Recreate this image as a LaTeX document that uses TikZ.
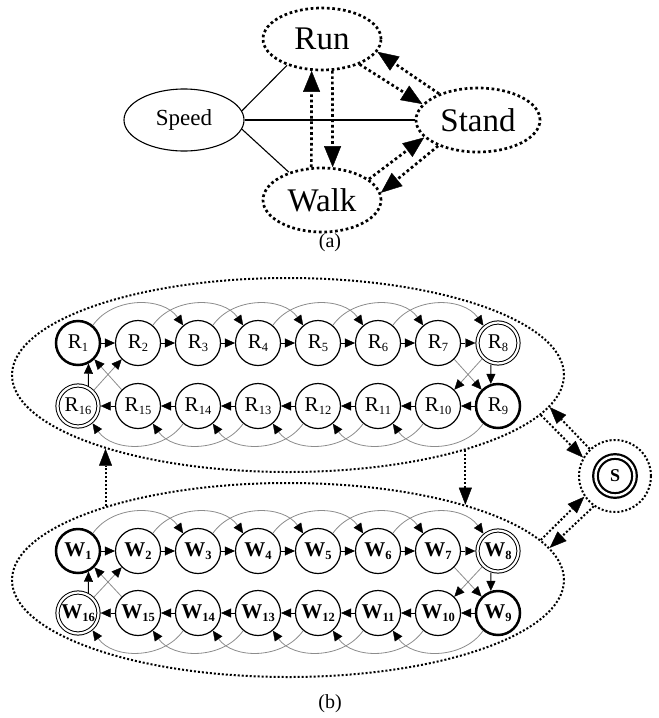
\documentclass[tikz,border=0pt]{standalone}
\usepackage{fontspec}
\setmainfont{Liberation Serif}
\usetikzlibrary{shapes.geometric,arrows.meta}

% state label: letter with a lowered small index
\newcommand\stlab[3]{{#1\fontsize{21}{21}\selectfont #2}\raisebox{-3.5pt}{#1\fontsize{12.5}{12.5}\selectfont #3}}

\begin{document}
\begin{tikzpicture}[x=1pt,y=1pt,
  bigdots/.style={line width=2.7pt,dash pattern=on 2.7pt off 2.7pt},
  smalldots/.style={line width=2pt,dash pattern=on 2pt off 2pt},
  bigtip/.style={-{Triangle[length=21pt,width=17pt,line width=0.4pt]}},
  midtip/.style={-{Triangle[length=17pt,width=13pt,line width=0.4pt]}},
  oval/.style={ellipse,inner sep=0pt},
  pl/.style={circle,draw,line width=1.2pt,minimum size=45pt,inner sep=0pt},
  thk/.style={circle,draw,line width=2.5pt,minimum size=44pt,inner sep=0pt},
  dbl/.style={circle,draw,line width=1pt,double,double distance=2.2pt,minimum size=41pt,inner sep=0pt,outer sep=2.2pt},
  nxt/.style={draw,line width=1pt,-{Triangle[length=10pt,width=9pt,line width=0.4pt]}},
  skp/.style={draw=black!45,line width=0.8pt,-{Triangle[length=10pt,width=9pt,line width=0.4pt,color=black]}},
]
\useasboundingbox (0,0) rectangle (659,-718);

% ---------------- (a) activity model ----------------
\node[oval,draw,line width=1.1pt,minimum width=120pt,minimum height=62pt] (speed) at (184,-120) {\fontsize{23}{23}\selectfont Speed};
\node[oval,draw,bigdots,minimum width=118pt,minimum height=62pt] (run) at (322,-39) {\fontsize{33}{33}\selectfont Run};
\node[oval,draw,bigdots,minimum width=124pt,minimum height=64pt] (stand) at (478,-120) {\fontsize{33}{33}\selectfont Stand};
\node[oval,draw,bigdots,minimum width=118pt,minimum height=64pt] (walk) at (322,-200) {\fontsize{33}{33}\selectfont Walk};

\draw[line width=1.1pt] (speed.9.6) -- (run.217);
\draw[line width=1.1pt] (speed) -- (stand);
\draw[line width=1.1pt] (speed.-9.6) -- (walk.140);

\draw[bigdots,bigtip] (run.-34) -- (stand.164);
\draw[bigdots,bigtip] (stand.146) -- (run.-13.6);
\draw[bigdots,bigtip] (stand.213) -- (walk.7.5);
\draw[bigdots,bigtip] (walk.24) -- (stand.198);
\draw[bigdots,bigtip] (run.-72) -- (walk.72);
\draw[bigdots,bigtip] (walk.108) -- (run.-108);

\node (capa) at (330,-243) {\fontsize{20}{20}\selectfont (a)};

% ---------------- (b) state chains ----------------
\node[oval,draw,smalldots,minimum width=552pt,minimum height=194pt] (Rg) at (288,-375) {};
\node[oval,draw,smalldots,minimum width=552pt,minimum height=194pt] (Wg) at (288,-580) {};

\foreach \g/\yt/\yb/\ff in {R/343/406/\mdseries,W/551/613/\bfseries}{
  \foreach \i/\s in {1/thk,2/pl,3/pl,4/pl,5/pl,6/pl,7/pl,8/dbl}
    \node[\s] (\g\i) at ({78+60*(\i-1)},-\yt) {\stlab{\ff}{\g}{\i}};
  \foreach \i/\s in {9/thk,10/pl,11/pl,12/pl,13/pl,14/pl,15/pl,16/dbl}
    \node[\s] (\g\i) at ({498-60*(\i-9)},-\yb) {\stlab{\ff}{\g}{\i}};
}

\foreach \g in {R,W}{
  % one step forward
  \foreach \i [evaluate=\i as \j using int(\i+1)] in {1,2,3,4,5,6,7,9,10,11,12,13,14,15}
    \draw[nxt] (\g\i) -- (\g\j);
  \draw[nxt] (\g8.-108) -- (\g9.108);
  \draw[nxt] (\g16.63) -- (\g1.-63);
  % two steps forward
  \foreach \i [evaluate=\i as \j using int(\i+2)] in {1,...,6}
    \draw[skp] (\g\i.50) to[out=55,in=125] (\g\j.130);
  \foreach \i [evaluate=\i as \j using int(\i+2)] in {9,...,14}
    \draw[skp] (\g\i.230) to[out=-125,in=-55] (\g\j.-50);
  \draw[skp] (\g7.-45) -- (\g9.135);
  \draw[skp] (\g8.-135) -- (\g10.45);
  \draw[skp] (\g15.135) -- (\g1.-45);
  \draw[skp] (\g16.45) -- (\g2.-135);
}

% standing state
\node[circle,draw,smalldots,minimum size=72pt,inner sep=0pt] (Sring) at (615,-476) {};
\node[circle,draw,line width=2.2pt,double,double distance=2.4pt,minimum size=39pt,inner sep=0pt,font={\bfseries\fontsize{18}{18}\selectfont}] (S) at (615,-476) {S};

\draw[smalldots,midtip] (Rg.-9.8) -- (Sring.150.6);
\draw[smalldots,midtip] (Sring.133.9) -- (Rg.-7.3);
\draw[smalldots,midtip] (Wg.9.8) -- (Sring.214.5);
\draw[smalldots,midtip] (Sring.235.5) -- (Wg.7.2);
\draw[smalldots,midtip] (Wg.158) -- (Rg.-158);
\draw[smalldots,midtip] (Rg.-23.4) -- (Wg.23.4);

\node (capb) at (330,-704) {\fontsize{20}{20}\selectfont (b)};
\end{tikzpicture}
\end{document}
